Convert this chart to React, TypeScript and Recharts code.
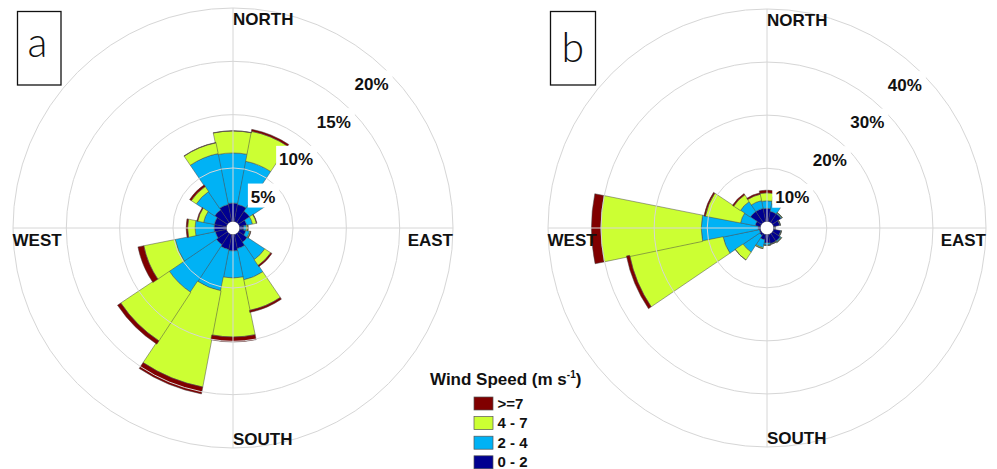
import { PolarAngleAxis, PolarGrid, PolarRadiusAxis, RadialBar, RadialBarChart } from 'recharts';

const directions = ['N', 'NNE', 'NE', 'ENE', 'E', 'ESE', 'SE', 'SSE', 'S', 'SSW', 'SW', 'WSW', 'W', 'WNW', 'NW', 'NNW'];

// site a: frequency (%) of each speed class per direction
const aSpeed0to2 = [1.72, 1.62, 1.25, 0.68, 0.4, 0.59, 0.97, 1.34, 1.53, 1.43, 1.25, 1.06, 1.15, 1.15, 1.43, 1.62];
const aSpeed2to4 = [4.69, 4.12, 2.06, 0.56, 0.23, 0.37, 1.97, 3.0, 2.53, 3.94, 5.34, 3.84, 1.78, 1.03, 2.06, 4.87];
const aSpeed4to7 = [2.06, 2.86, 0.19, 0.37, 0.14, 0.09, 0.66, 2.91, 5.53, 9.18, 5.44, 3.0, 0.7, 0.56, 0.56, 1.03];
const aSpeedOver7 = [0.02, 0.19, 0.09, 0.05, 0.03, 0.03, 0.14, 0.19, 0.47, 0.66, 0.37, 0.56, 0.14, 0.09, 0.19, 0.03];

// site b
const bSpeed0to2 = [2.44, 1.93, 1.93, 1.18, 0.24, 1.37, 1.74, 1.74, 1.56, 1.0, 0.43, 0.24, 0.43, 1.0, 2.5, 2.5];
const bSpeed2to4 = [1.43, 1.5, 0.19, 0.1, 0.05, 0.1, 0.2, 0.1, 0.38, 1.5, 3.75, 6.94, 10.7, 2.81, 2.25, 1.5];
const bSpeed4to7 = [1.5, 1.13, 0.1, 0.05, 0, 0.05, 0.1, 0.05, 0.1, 0.2, 1.78, 17.95, 18.95, 6.75, 1.5, 1.22];
const bSpeedOver7 = [0.51, 0.19, 0, 0, 0, 0, 0, 0, 0, 0, 0, 0.62, 1.74, 0.28, 0.28, 0.28];

const ringTicksA = [5, 10, 15, 20];
const ringTicksB = [10, 20, 30, 40];

const compassNames: Record<string, string> = { N: 'NORTH', E: 'EAST', S: 'SOUTH', W: 'WEST' };

const speedClasses = [
  { key: 's0', label: '0 - 2', color: '#000090' },
  { key: 's2', label: '2 - 4', color: '#00b2f5' },
  { key: 's4', label: '4 - 7', color: '#ccff33' },
  { key: 's7', label: '>=7', color: '#800000' },
];

const FONT = '"Liberation Sans", Arial, Helvetica, sans-serif';
const CY = 228;

function buildRows(s0: number[], s2: number[], s4: number[], s7: number[]) {
  return directions.map((dir, i) => ({ dir, s0: s0[i], s2: s2[i], s4: s4[i], s7: s7[i] }));
}

const rowsA = buildRows(aSpeed0to2, aSpeed2to4, aSpeed4to7, aSpeedOver7);
const rowsB = buildRows(bSpeed0to2, bSpeed2to4, bSpeed4to7, bSpeedOver7);

// compass words sit on the outer ring, MATLAB-style alignment
function CompassTick({ payload, cx, r }: any) {
  const dir = payload?.value;
  const name = compassNames[dir];
  if (!name) return null;
  const spots: Record<string, { x: number; y: number; anchor: string }> = {
    N: { x: cx, y: CY - r + 17, anchor: 'start' },
    S: { x: cx, y: CY + r - 3, anchor: 'start' },
    W: { x: cx - r - 0.5, y: CY + 17.5, anchor: 'start' },
    E: { x: cx + r, y: CY + 17.5, anchor: 'end' },
  };
  const s = spots[dir];
  return (
    <text x={s.x} y={s.y} textAnchor={s.anchor} fontFamily={FONT} fontWeight="bold" fontSize={17} fill="#111">
      {name}
    </text>
  );
}

function PercentTick(props: any) {
  const { x, y, payload } = props;
  const label = `${payload.value}%`;
  const w = ((label.length - 1) * 0.556 + 0.889) * 17;
  return (
    <g>
      <rect x={x - w - 3} y={y - 2} width={w + 7} height={24} fill="#fff" />
      <text x={x} y={y + 17.6} textAnchor="end" fontFamily={FONT} fontWeight="bold" fontSize={17} fill="#111">
        {label}
      </text>
    </g>
  );
}

function WindRose({ rows, ticks, cx, width, outerRadius }: { rows: any[]; ticks: number[]; cx: number; width: number; outerRadius: number }) {
  return (
    <RadialBarChart
      width={width}
      height={469}
      data={rows}
      layout="centric"
      cx={cx}
      cy={CY}
      innerRadius={6.7}
      outerRadius={outerRadius}
      startAngle={78.75}
      endAngle={-281.25}
      barCategoryGap={0}
      barGap={0}
      margin={{ top: 0, right: 0, bottom: 0, left: 0 }}
    >
      {speedClasses.map((c) => (
        <RadialBar key={c.key} dataKey={c.key} stackId="speed" fill={c.color} stroke="#4a4a4a" strokeWidth={0.5} isAnimationActive={false} />
      ))}
      <PolarGrid gridType="circle" polarAngles={[0, 90, 180, 270]} stroke="#d6d6d6" zIndex={450} />
      <PolarAngleAxis
        type="category"
        dataKey="dir"
        axisLine={false}
        tickLine={false}
        tick={(p: any) => <CompassTick {...p} cx={cx} r={outerRadius} />}
      />
      <PolarRadiusAxis
        type="number"
        domain={[0, ticks[ticks.length - 1]]}
        ticks={ticks}
        angle={45}
        axisLine={false}
        tickLine={false}
        tick={(p: any) => <PercentTick {...p} />}
      />
    </RadialBarChart>
  );
}

function LegendBlock() {
  const items = [...speedClasses].reverse();
  return (
    <svg width={997} height={469} style={{ position: 'absolute', left: 0, top: 0, pointerEvents: 'none' }}>
      <rect x={17.5} y={11.5} width={43.5} height={73.5} fill="none" stroke="#111" strokeWidth={1.3} />
      <text x={37.5} y={57.3} textAnchor="middle" fontFamily="Lato, 'Open Sans', sans-serif" fontWeight={300} fontSize={41} fill="#111">
        a
      </text>
      <rect x={550.5} y={11.5} width={45} height={73.5} fill="none" stroke="#111" strokeWidth={1.3} />
      <text x={572.8} y={61.5} textAnchor="middle" fontFamily="Lato, 'Open Sans', sans-serif" fontWeight={300} fontSize={41} fill="#111">
        b
      </text>
      <text x={430} y={385} fontFamily={FONT} fontWeight="bold" fontSize={17} fill="#111">
        Wind Speed (m s
        <tspan fontSize={10} dy={-7}>-1</tspan>
        <tspan dy={7}>)</tspan>
      </text>
      {items.map((c, i) => (
        <g key={c.key}>
          <rect x={474} y={397 + i * 19.6} width={19} height={13} fill={c.color} stroke="#555" strokeWidth={0.7} />
          <text x={497.5} y={408.8 + i * 19.4} fontFamily={FONT} fontWeight="bold" fontSize={15} fill="#111">
            {c.label}
          </text>
        </g>
      ))}
    </svg>
  );
}

export default function App() {
  return (
    <div style={{ position: 'fixed', left: 0, top: 0, width: 997, height: 469, background: '#fff', overflow: 'hidden' }}>
      <div style={{ position: 'absolute', left: 0, top: 0 }}>
        <WindRose rows={rowsA} ticks={ringTicksA} cx={233} width={470} outerRadius={220} />
      </div>
      <div style={{ position: 'absolute', left: 500, top: 0 }}>
        <WindRose rows={rowsB} ticks={ringTicksB} cx={267} width={497} outerRadius={219} />
      </div>
      <LegendBlock />
    </div>
  );
}
